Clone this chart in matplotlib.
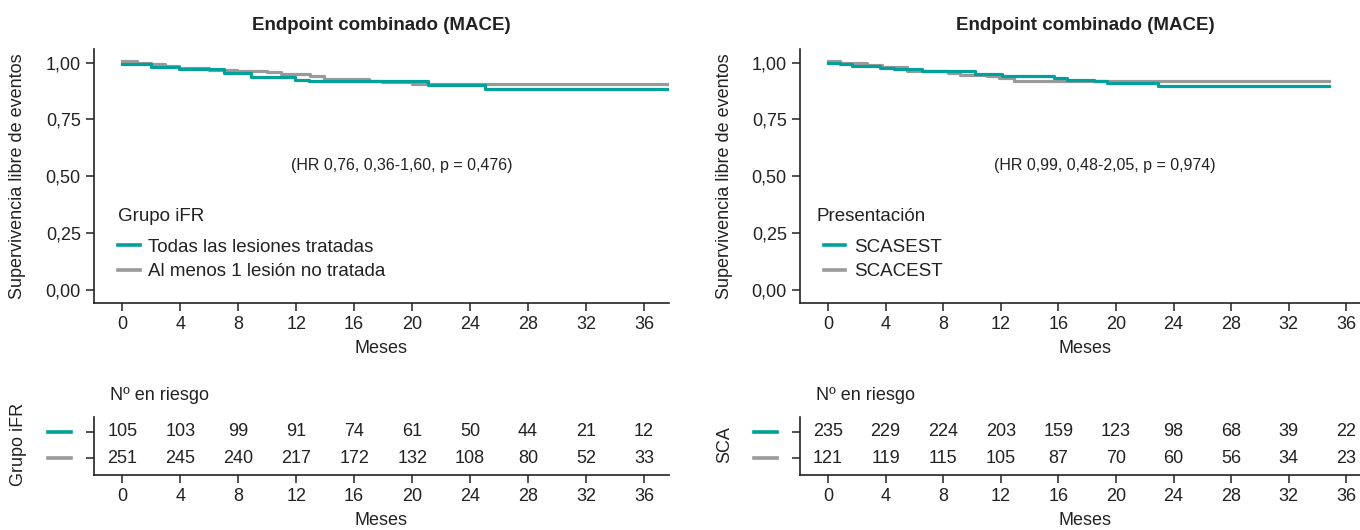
import numpy as np
import matplotlib
matplotlib.use("Agg")
import matplotlib.pyplot as plt
import matplotlib.transforms as mtransforms

plt.rcParams['font.family'] = ['Liberation Sans', 'DejaVu Sans']

TEAL = '#00a19b'
GRAY = '#9a9a9a'
INK = '#222222'

months = [0, 4, 8, 12, 16, 20, 24, 28, 32, 36]

# left panel: Grupo iFR
ifr_labels = ['Todas las lesiones tratadas', 'Al menos 1 lesión no tratada']
ifr_t_all = [0, 1.96, 3.9, 7.0, 8.9, 11.95, 12.9, 21.06, 25.0, 37.7]
ifr_s_all = [0.993, 0.982, 0.971, 0.953, 0.935, 0.925, 0.918, 0.900, 0.883, 0.883]
ifr_t_not = [0, 1.0, 1.96, 2.96, 3.9, 5.97, 7.9, 9.96, 10.95, 12.97, 13.9, 17.0, 17.95, 20.0, 37.7]
ifr_s_not = [1.008, 0.997, 0.992, 0.985, 0.978, 0.968, 0.963, 0.957, 0.952, 0.941, 0.930, 0.919, 0.915, 0.908, 0.908]
ifr_risk_all = [105, 103, 99, 91, 74, 61, 50, 44, 21, 12]
ifr_risk_not = [251, 245, 240, 217, 172, 132, 108, 80, 52, 33]
ifr_hr = '(HR 0,76, 0,36-1,60, p = 0,476)'

# right panel: Presentación
sca_labels = ['SCASEST', 'SCACEST']
sca_t_nst = [0, 0.82, 1.7, 3.6, 4.56, 6.5, 10.2, 12.1, 15.7, 16.6, 18.5, 19.4, 22.9, 34.8]
sca_s_nst = [1.0, 0.993, 0.985, 0.978, 0.971, 0.965, 0.952, 0.943, 0.933, 0.925, 0.918, 0.909, 0.899, 0.899]
sca_t_st = [0, 0.82, 2.7, 3.75, 5.5, 8.3, 9.2, 11.06, 11.9, 12.9, 34.8]
sca_s_st = [1.005, 0.997, 0.990, 0.982, 0.965, 0.956, 0.947, 0.940, 0.931, 0.917, 0.917]
sca_risk_nst = [235, 229, 224, 203, 159, 123, 98, 68, 39, 22]
sca_risk_st = [121, 119, 115, 105, 87, 70, 60, 56, 34, 23]
sca_hr = '(HR 0,99, 0,48-2,05, p = 0,974)'

XLIM = (-1.95, 37.72)
FS = 13


def style(ax):
    for s in ['top', 'right']:
        ax.spines[s].set_visible(False)
    for s in ['left', 'bottom']:
        ax.spines[s].set_color(INK)
        ax.spines[s].set_linewidth(1.2)
    ax.tick_params(direction='out', length=6, width=1.1, color=INK, pad=3.5,
                   labelsize=FS, labelcolor=INK)


def km_panel(ax, t1, s1, t2, s2, labels, legend_title, hr, title_x):
    ax.step(t1, s1, where='post', color=TEAL, lw=2.3, label=labels[0], zorder=3)
    ax.step(t2, s2, where='post', color=GRAY, lw=2.3, label=labels[1], zorder=2)
    ax.set_xlim(XLIM)
    ax.set_ylim(-0.056, 1.06)
    ax.set_xticks(months)
    ax.set_yticks([0, 0.25, 0.5, 0.75, 1.0])
    ax.set_yticklabels(['0,00', '0,25', '0,50', '0,75', '1,00'])
    style(ax)
    ax.set_xlabel('Meses', fontsize=FS, color=INK, labelpad=5)
    ax.set_ylabel('Supervivencia libre de eventos', fontsize=FS, color=INK)
    ax.yaxis.set_label_coords(-0.118, 0.5)
    ax.set_title('Endpoint combinado (MACE)', fontsize=13.5, fontweight='bold',
                 color=INK, pad=14)
    ax.text(19.25, 0.547, hr, fontsize=11.5, color=INK, ha='center', va='center')
    ax.text(title_x, 0.322, legend_title, fontsize=13.5, color=INK,
            ha='left', va='center')
    leg = ax.legend(loc='center left', bbox_to_anchor=(0.0416, 0.170), frameon=False,
                    fontsize=13.5, handlelength=1.16, handletextpad=0.46,
                    labelspacing=0.4, borderpad=0, borderaxespad=0)
    for h in leg.get_lines():
        h.set_linewidth(2.6)
    for tx in leg.get_texts():
        tx.set_color(INK)


def risk_panel(ax, r1, r2, name):
    for m, a, b in zip(months, r1, r2):
        ax.text(m, 1, str(a), ha='center', va='center', fontsize=FS, color=INK)
        ax.text(m, 0, str(b), ha='center', va='center', fontsize=FS, color=INK)
    ax.set_xlim(XLIM)
    ax.set_ylim(-0.63, 1.56)
    ax.set_xticks(months)
    ax.set_yticks([0, 1])
    ax.set_yticklabels([])
    style(ax)
    ax.set_xlabel('Meses', fontsize=FS, color=INK, labelpad=5)
    trans = mtransforms.blended_transform_factory(ax.transAxes, ax.transData)
    ax.plot([-0.080, -0.040], [1, 1], color=TEAL, lw=2.6, transform=trans, clip_on=False)
    ax.plot([-0.080, -0.040], [0, 0], color=GRAY, lw=2.6, transform=trans, clip_on=False)
    ax.text(0.028, 1.37, 'Nº en riesgo', transform=ax.transAxes, fontsize=FS,
            color=INK, ha='left', va='center')
    ax.text(-0.132, 0.5, name, transform=trans, rotation=90, fontsize=FS,
            color=INK, ha='center', va='center')


fig = plt.figure(figsize=(13.6, 5.3), dpi=100)

ax1 = fig.add_axes([0.0691, 0.4289, 0.4228, 0.4787])
km_panel(ax1, ifr_t_all, ifr_s_all, ifr_t_not, ifr_s_not, ifr_labels,
         'Grupo iFR', ifr_hr, -0.3)
ax2 = fig.add_axes([0.0691, 0.1038, 0.4228, 0.110])
risk_panel(ax2, ifr_risk_all, ifr_risk_not, 'Grupo iFR')

ax3 = fig.add_axes([0.5882, 0.4289, 0.4199, 0.4787])
km_panel(ax3, sca_t_nst, sca_s_nst, sca_t_st, sca_s_st, sca_labels,
         'Presentación', sca_hr, -0.79)
ax4 = fig.add_axes([0.5882, 0.1038, 0.4199, 0.110])
risk_panel(ax4, sca_risk_nst, sca_risk_st, 'SCA')

fig.savefig('out.png', dpi=100)
